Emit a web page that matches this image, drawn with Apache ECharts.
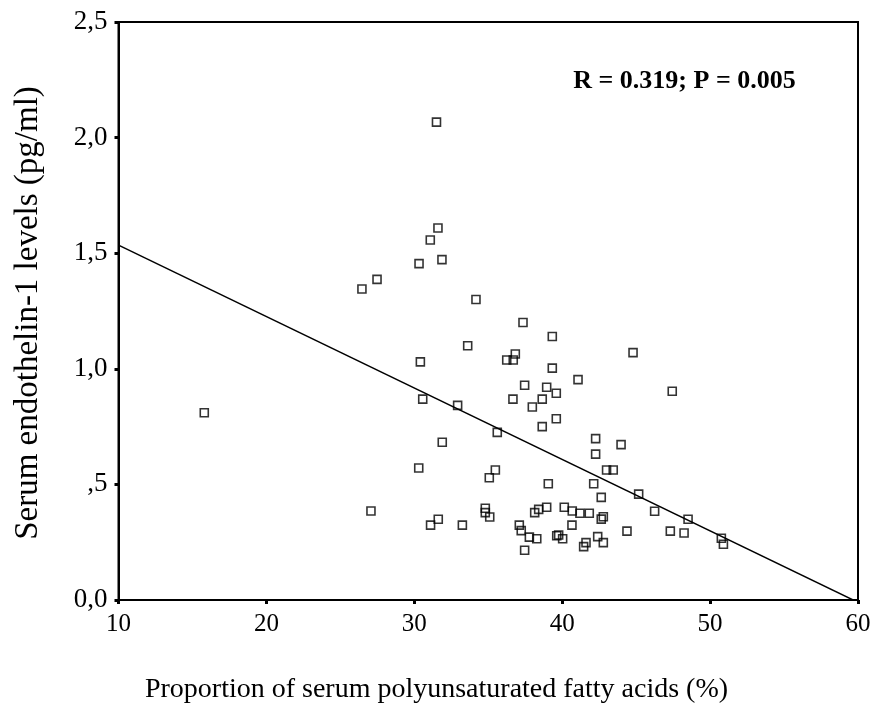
<!DOCTYPE html>
<html>
<head>
<meta charset="utf-8">
<script src="https://cdn.jsdelivr.net/npm/echarts@6/dist/echarts.min.js"></script>
<style>
html,body{margin:0;padding:0;background:#fff;}
#chart{width:874px;height:724px;}
</style>
</head>
<body>
<div id="chart"></div>
<script>
// Proportion of serum PUFA (%)
var pufa = [15.8,31.5,31.6,31.08,31.87,30.32,27.48,26.46,34.17,37.35,39.33,33.61,30.41,36.83,36.25,36.69,39.33,41.07,37.46,38.95,39.6,36.67,38.65,37.98,30.57,32.93,39.6,38.65,35.61,31.89,42.26,42.26,44.79,47.44,43.98,43.0,43.45,42.13,45.17,42.64,46.25,48.51,50.76,50.9,47.31,48.24,44.38,40.14,40.68,41.2,41.83,42.64,42.78,40.66,39.63,39.76,40.03,42.4,42.78,41.61,41.45,30.3,35.48,35.07,39.06,31.1,31.62,33.25,34.8,34.8,35.1,37.1,37.23,37.78,38.28,37.46,38.14,38.41,38.95,27.07];
// Serum endothelin-1 (pg/ml)
var et1 = [0.81,2.067,1.609,1.557,1.472,1.455,1.387,1.345,1.30,1.20,1.14,1.10,1.03,1.064,1.038,1.038,1.003,0.953,0.929,0.920,0.894,0.869,0.869,0.835,0.869,0.842,0.784,0.750,0.725,0.682,0.698,0.631,1.07,0.903,0.672,0.562,0.562,0.503,0.458,0.444,0.384,0.349,0.267,0.241,0.298,0.290,0.298,0.401,0.385,0.375,0.375,0.350,0.360,0.324,0.278,0.281,0.265,0.274,0.248,0.248,0.231,0.571,0.562,0.529,0.503,0.324,0.349,0.324,0.397,0.378,0.359,0.324,0.300,0.272,0.265,0.215,0.378,0.392,0.401,0.385];
// Regression line end points
var fitX = [10, 60];
var fitY = [1.535, -0.01];
// Tick labels
var yTickValues = [0, 0.5, 1, 1.5, 2, 2.5];
var yTickLabels = ['0,0', ',5', '1,0', '1,5', '2,0', '2,5'];
var xTitle = 'Proportion of serum polyunsaturated fatty acids (%)';
var yTitle = 'Serum endothelin-1 levels (pg/ml)';
var statText = 'R = 0.319; P = 0.005';

var pts = pufa.map(function(v, i){ return [v, et1[i]]; });
var fit = fitX.map(function(v, i){ return [v, fitY[i]]; });
var FONT = 'Liberation Serif';

var chart = echarts.init(document.getElementById('chart'), null, {renderer:'canvas'});
chart.setOption({
  animation: false,
  backgroundColor: '#fff',
  grid: {left: 118.5, right: 16, top: 22, bottom: 124, show: true, borderColor: '#000', borderWidth: 2, backgroundColor: 'transparent'},
  xAxis: {
    type: 'value', min: 10, max: 60, interval: 10,
    axisLine: {show: true, onZero: false, lineStyle: {color: '#000', width: 2}},
    axisTick: {show: true, length: 4, lineStyle: {color: '#000', width: 3}},
    splitLine: {show: false},
    axisLabel: {color: '#000', fontFamily: FONT, fontSize: 25, margin: 12}
  },
  yAxis: {
    type: 'value', min: 0, max: 2.5, interval: 0.5,
    axisLine: {show: true, onZero: false, lineStyle: {color: '#000', width: 2}},
    axisTick: {show: true, length: 4, lineStyle: {color: '#000', width: 3}},
    splitLine: {show: false},
    axisLabel: {color: '#000', fontFamily: FONT, fontSize: 27, margin: 11,
      formatter: function(v){
        for (var i = 0; i < yTickValues.length; i++) {
          if (Math.abs(yTickValues[i] - v) < 1e-6) return yTickLabels[i];
        }
        return '';
      }}
  },
  series: [
    {
      type: 'line', data: fit, showSymbol: false, symbol: 'none',
      lineStyle: {color: '#000', width: 1.5}, z: 2
    },
    {
      type: 'scatter', data: pts, symbol: 'rect', symbolSize: 8,
      itemStyle: {color: 'rgba(0,0,0,0)', borderColor: '#000', borderWidth: 1.6},
      z: 3
    }
  ],
  graphic: [
    {type: 'text', x: 436.5, y: 690, style: {text: xTitle, fill: '#000', font: '28px "Liberation Serif"', align: 'center', verticalAlign: 'middle'}},
    {type: 'text', x: 28, y: 313, rotation: Math.PI/2, style: {text: yTitle, fill: '#000', font: '33px "Liberation Serif"', align: 'center', verticalAlign: 'middle'}},
    {type: 'text', x: 684.5, y: 81, style: {text: statText, fill: '#000', font: 'bold 26px "Liberation Serif"', align: 'center', verticalAlign: 'middle'}}
  ]
});
</script>
</body>
</html>
